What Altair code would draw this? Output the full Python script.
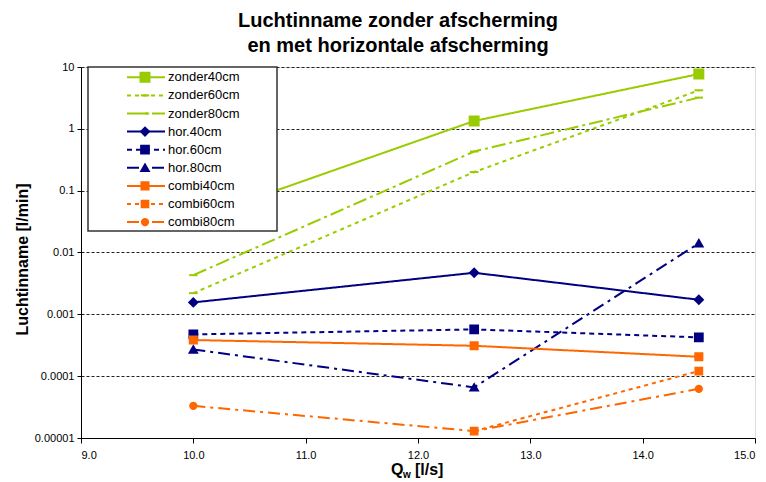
import altair as alt
import pandas as pd

# ---- data ----
x_vals = [10.0, 12.5, 14.5]
series = ["zonder40cm", "zonder60cm", "zonder80cm",
          "hor.40cm", "hor.60cm", "hor.80cm",
          "combi40cm", "combi60cm", "combi80cm"]
zonder40 = [0.034, 1.34, 7.7]
zonder60 = [0.0022, 0.2, 4.2]
zonder80 = [0.0043, 0.43, 3.2]
hor40 = [0.00156, 0.0047, 0.00172]
hor60 = [0.000474, 0.000571, 0.000424]
hor80 = [0.00027, 0.0000658, 0.0141]
combi40 = [0.000384, 0.00031, 0.000206]
combi60 = [None, 0.0000129, 0.000121]
combi80 = [0.0000331, 0.0000129, 0.0000624]
values = [zonder40, zonder60, zonder80, hor40, hor60, hor80, combi40, combi60, combi80]

x_ticks = [9, 10, 11, 12, 13, 14, 15]
y_ticks = [0.00001, 0.0001, 0.001, 0.01, 0.1, 1, 10]

# ---- styles ----
GREEN, NAVY, ORANGE = "#99CC00", "#000080", "#FF6600"
colors = [GREEN, GREEN, GREEN, NAVY, NAVY, NAVY, ORANGE, ORANGE, ORANGE]
dashes = [[1, 0], [4, 4], [14, 4, 3, 4], [1, 0], [5, 4], [12, 5, 3, 5], [1, 0], [4, 4], [12, 5, 3, 5]]
shapes = ["square", "stroke", "stroke", "diamond", "square", "triangle-up", "square", "square", "circle"]
sizes = [80, 40, 40, 70, 80, 80, 80, 30, 80]

rows = []
for s, vals in zip(series, values):
    for x, v in zip(x_vals, vals):
        if v is not None:
            rows.append({"series": s, "Qw": x, "val": v})
df = pd.DataFrame(rows)
leg = pd.DataFrame({"series": series, "idx": list(range(len(series)))})

color_sc = alt.Scale(domain=series, range=colors)
dash_sc = alt.Scale(domain=series, range=dashes)
shape_sc = alt.Scale(domain=series, range=shapes)
size_sc = alt.Scale(domain=series, range=sizes)

x_enc = alt.X("Qw:Q", scale=alt.Scale(domain=[9, 15], nice=False, zero=False),
              axis=alt.Axis(values=x_ticks, format=".1f", title=None, grid=False,
                            tickSize=5, labelPadding=6, labelFontSize=11,
                            domainColor="black", tickColor="black", labelColor="black"))
y_enc = alt.Y("val:Q", scale=alt.Scale(type="log", domain=[0.00001, 10], nice=False),
              axis=alt.Axis(values=y_ticks, labelExpr="'' + datum.value",
                            title="Luchtinname [l/min]", titleFontSize=16, titleFontWeight="bold",
                            titleX=-59, titleY=192, titleBaseline="middle",
                            grid=True, gridDash=[3, 2], gridColor="#222222", gridWidth=1,
                            tickSize=4, labelPadding=3, labelFontSize=11,
                            domainColor="black", tickColor="black", labelColor="black"))

base = alt.Chart(df)
lines = base.mark_line(strokeWidth=2).encode(
    x=x_enc, y=y_enc,
    color=alt.Color("series:N", scale=color_sc, legend=None),
    strokeDash=alt.StrokeDash("series:N", scale=dash_sc, legend=None),
    detail="series:N",
)
points = base.mark_point(filled=True, opacity=1, strokeWidth=2).encode(
    x="Qw:Q", y="val:Q",
    color=alt.Color("series:N", scale=color_sc, legend=None),
    stroke=alt.Stroke("series:N", scale=color_sc, legend=None),
    shape=alt.Shape("series:N", scale=shape_sc, legend=None),
    size=alt.Size("series:N", scale=size_sc, legend=None),
)

# ---- manual legend ----
box = alt.Chart(alt.Data(values=[{}])).mark_rect(fill="white", stroke="#333333", strokeWidth=1.5).encode(
    x=alt.value(7), x2=alt.value(196), y=alt.value(0), y2=alt.value(164))
lb = alt.Chart(leg).transform_calculate(py="10.3 + datum.idx * 18.1")
leg_lines = lb.mark_rule(strokeWidth=2).encode(
    x=alt.value(46), x2=alt.value(84),
    y=alt.Y("py:Q", scale=None, axis=None),
    color=alt.Color("series:N", scale=color_sc, legend=None),
    strokeDash=alt.StrokeDash("series:N", scale=dash_sc, legend=None),
)
leg_pts = lb.mark_point(filled=True, opacity=1, strokeWidth=2).encode(
    x=alt.value(64),
    y=alt.Y("py:Q", scale=None, axis=None),
    color=alt.Color("series:N", scale=color_sc, legend=None),
    stroke=alt.Stroke("series:N", scale=color_sc, legend=None),
    shape=alt.Shape("series:N", scale=shape_sc, legend=None),
    size=alt.Size("series:N", scale=size_sc, legend=None),
)
leg_text = lb.mark_text(align="left", baseline="middle", fontSize=13, font="Liberation Sans",
                        color="black").encode(
    x=alt.value(87), y=alt.Y("py:Q", scale=None, axis=None), text="series:N")

# ---- x axis title with subscript ----
one = alt.Data(values=[{}])
xt_q = alt.Chart(one).mark_text(text="Q", align="left", baseline="middle", fontSize=16,
                                fontWeight="bold", font="Liberation Sans", color="black").encode(
    x=alt.value(310), y=alt.value(403))
xt_w = alt.Chart(one).mark_text(text="w", align="left", baseline="middle", fontSize=10,
                                fontWeight="bold", font="Liberation Sans", color="black").encode(
    x=alt.value(322), y=alt.value(408))
xt_u = alt.Chart(one).mark_text(text="[l/s]", align="left", baseline="middle", fontSize=16,
                                fontWeight="bold", font="Liberation Sans", color="black").encode(
    x=alt.value(334), y=alt.value(403))

chart = alt.layer(lines, points, box, leg_lines, leg_pts, leg_text, xt_q, xt_w, xt_u).properties(
    width=674, height=371,
    title=alt.TitleParams(["Luchtinname zonder afscherming", "en met horizontale afscherming"],
                          fontSize=20, fontWeight="bold", font="Liberation Sans", color="black",
                          anchor="middle", dx=-20, offset=5, lineHeight=25),
    autosize=alt.AutoSizeParams(type="none"),
    padding={"left": 81, "top": 67, "right": 11, "bottom": 44},
).configure_view(stroke="#808080", strokeWidth=1).configure_axis(
    labelFont="Liberation Sans", titleFont="Liberation Sans", titleColor="black"
).configure(background="white")

chart.save("out.html", embed_options={"renderer": "svg", "actions": False})
